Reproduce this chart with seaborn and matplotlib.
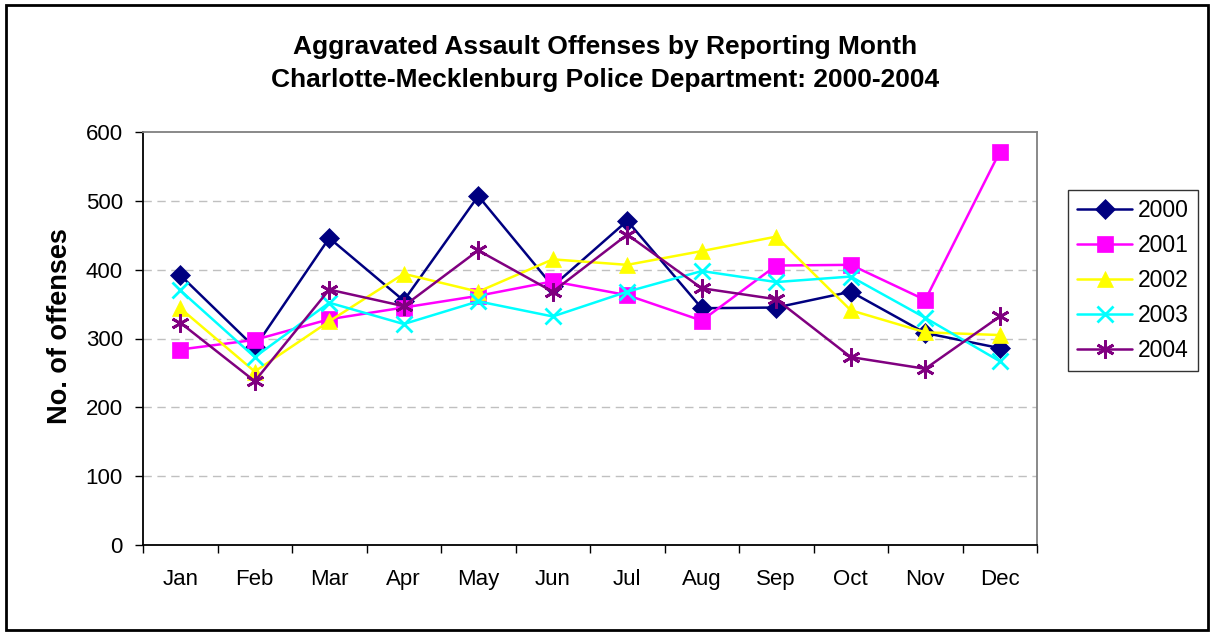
import numpy as np
import pandas as pd
import matplotlib
matplotlib.use("Agg")
import matplotlib.pyplot as plt
from matplotlib.patches import Rectangle
from matplotlib.ticker import FixedLocator, NullFormatter
import seaborn as sns

# data
months = ["Jan", "Feb", "Mar", "Apr", "May", "Jun",
          "Jul", "Aug", "Sep", "Oct", "Nov", "Dec"]
years = ["2000", "2001", "2002", "2003", "2004"]
y2000 = [392, 287, 446, 355, 507, 376, 471, 344, 345, 368, 308, 286]
y2001 = [284, 298, 328, 345, 362, 383, 363, 326, 406, 407, 356, 571]
y2002 = [344, 252, 325, 394, 368, 415, 407, 427, 448, 341, 309, 305]
y2003 = [370, 273, 352, 321, 354, 332, 368, 398, 382, 390, 330, 267]
y2004 = [323, 238, 371, 347, 428, 368, 451, 373, 357, 273, 256, 332]

colors = {"2000": "#000080", "2001": "#FF00FF", "2002": "#FFFF00",
          "2003": "#00FFFF", "2004": "#800080"}
markers = {"2000": "D", "2001": "s", "2002": "^", "2003": "x", "2004": (6, 2, 0)}
msizes = {"2000": 10, "2001": 11, "2002": 12, "2003": 11, "2004": 13}

df = pd.DataFrame({
    "month": months * 5,
    "x": list(range(12)) * 5,
    "year": np.repeat(years, 12),
    "count": y2000 + y2001 + y2002 + y2003 + y2004,
})

sns.set_style("white")
plt.rcParams["font.family"] = ["Liberation Sans", "DejaVu Sans"]
plt.rcParams.update({"text.color": "black", "axes.labelcolor": "black",
                     "xtick.color": "black", "ytick.color": "black"})

fig = plt.figure(figsize=(12.15, 6.35), dpi=100)
ax = fig.add_axes([143 / 1215, 90 / 635, 894 / 1215, 413 / 635])

# one call per year (filled and line-art markers can't share one call)
for yr in years:
    sns.lineplot(data=df[df.year == yr], x="x", y="count", color=colors[yr],
                 marker=markers[yr], linewidth=1.8, legend=False, ax=ax, zorder=3)

for line, yr in zip(ax.lines, years):
    line.set_markeredgecolor(colors[yr])
    line.set_markerfacecolor(colors[yr])
    line.set_markersize(msizes[yr])
    line.set_markeredgewidth(2 if yr in ("2003", "2004") else 0.5)

ax.set_xlim(-0.5, 11.5)
ax.set_ylim(0, 600)
ax.set_yticks(range(0, 601, 100))
ax.xaxis.set_major_locator(FixedLocator(np.arange(-0.5, 12, 1)))
ax.xaxis.set_major_formatter(NullFormatter())
ax.xaxis.set_minor_locator(FixedLocator(range(12)))
ax.set_xticklabels(months, minor=True)
ax.tick_params(axis="x", which="major", direction="out", length=6, width=1, bottom=True)
ax.tick_params(axis="x", which="minor", length=0, pad=17, labelsize=16)
ax.tick_params(axis="y", direction="out", length=6, width=1, left=True, labelsize=16, pad=8.5)

for yv in range(100, 600, 100):
    ax.axhline(yv, color="#c0c0c0", linewidth=1, dashes=(6, 4), zorder=1)

ax.spines["left"].set_color("black")
ax.spines["bottom"].set_color("black")
ax.spines["top"].set_color("#808080")
ax.spines["right"].set_color("#808080")
for s in ax.spines.values():
    s.set_linewidth(1.3)

ax.set_xlabel("")
ax.set_ylabel("No. of offenses", fontsize=19.5, fontweight="bold")
ax.yaxis.label.set_va("center")
ax.yaxis.set_label_coords((60 - 143) / 894, (545 - 326) / 413)

leg = ax.legend(ax.lines[:5], years, loc="upper left",
                bbox_to_anchor=((1068 - 143) / 894, (545 - 190) / 413), borderaxespad=0,
                frameon=True, fancybox=False, edgecolor="black", fontsize=16.5,
                handlelength=2.4, labelspacing=0.52, borderpad=0.4, handletextpad=0.25)
leg.get_frame().set_linewidth(1)

fig.text(0.498, 1 - 47 / 635, "Aggravated Assault Offenses by Reporting Month",
         ha="center", va="center", fontsize=19, fontweight="bold")
fig.text(0.498, 1 - 80 / 635, "Charlotte-Mecklenburg Police Department: 2000-2004",
         ha="center", va="center", fontsize=19, fontweight="bold")

fig.patches.append(Rectangle((6 / 1215, 5 / 635), 1202 / 1215, 625 / 635,
                             transform=fig.transFigure, fill=False,
                             edgecolor="black", linewidth=2))

fig.savefig("out.png", dpi=100)
